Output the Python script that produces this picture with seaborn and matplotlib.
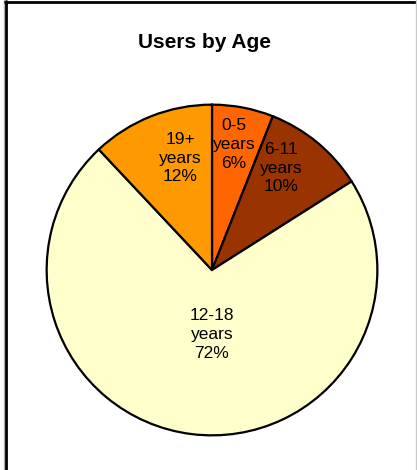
import matplotlib
matplotlib.use("Agg")
import matplotlib.pyplot as plt
from matplotlib.lines import Line2D
import numpy as np
import seaborn as sns

categories = ["0-5\nyears", "6-11\nyears", "12-18\nyears", "19+\nyears"]
values = [6, 10, 72, 12]
colors = ["#FF6600", "#993300", "#FFFFCC", "#FF9900"]
label_dist = [0.772, 0.745, 0.39, 0.703]
label_shift_deg = [1.0, 5.4, 7.2, -5.8]

sns.set_theme(style="white")
plt.rcParams["font.family"] = ["Liberation Sans", "DejaVu Sans"]

W, H = 417, 470
fig = plt.figure(figsize=(W / 100, H / 100), dpi=100)
fig.patch.set_facecolor("white")

cx, cy, r = 212, 270, 167
ax = fig.add_axes([(cx - r) / W, (H - cy - r) / H, 2 * r / W, 2 * r / H])
wedges, texts = ax.pie(values, colors=colors, startangle=90, counterclock=False,
                       labels=[f"{c}\n{v}%" for c, v in zip(categories, values)],
                       wedgeprops=dict(edgecolor="black", linewidth=1.6),
                       textprops=dict(fontsize=12.5, color="black", ha="center", va="center",
                                      linespacing=1.32),
                       labeldistance=0.7)
for w, t, d, s in zip(wedges, texts, label_dist, label_shift_deg):
    th = np.deg2rad((w.theta1 + w.theta2) / 2 + s)
    t.set_position((d * np.cos(th), d * np.sin(th)))
    t.set_ha("center")
    t.set_va("center")
ax.set_xlim(-1.01, 1.01)
ax.set_ylim(-1.01, 1.01)
ax.set_aspect("equal")
ax.axis("off")

fig.text(205 / W, 1 - 42 / H, "Users by Age", ha="center", va="center",
         fontsize=15, fontweight="bold", color="black")

# chart border
fig.add_artist(Line2D([3.5 / W, 3.5 / W], [0, 1], color="#b0b0b0", lw=1))
fig.add_artist(Line2D([5.5 / W, 5.5 / W], [0, 1 - 1 / H], color="black", lw=2))
fig.add_artist(Line2D([5 / W, 1], [1 - 1.5 / H, 1 - 1.5 / H], color="black", lw=2))
fig.add_artist(Line2D([415.5 / W, 415.5 / W], [0, 1], color="#c8c8c8", lw=1))

fig.savefig("out.png", dpi=100)
